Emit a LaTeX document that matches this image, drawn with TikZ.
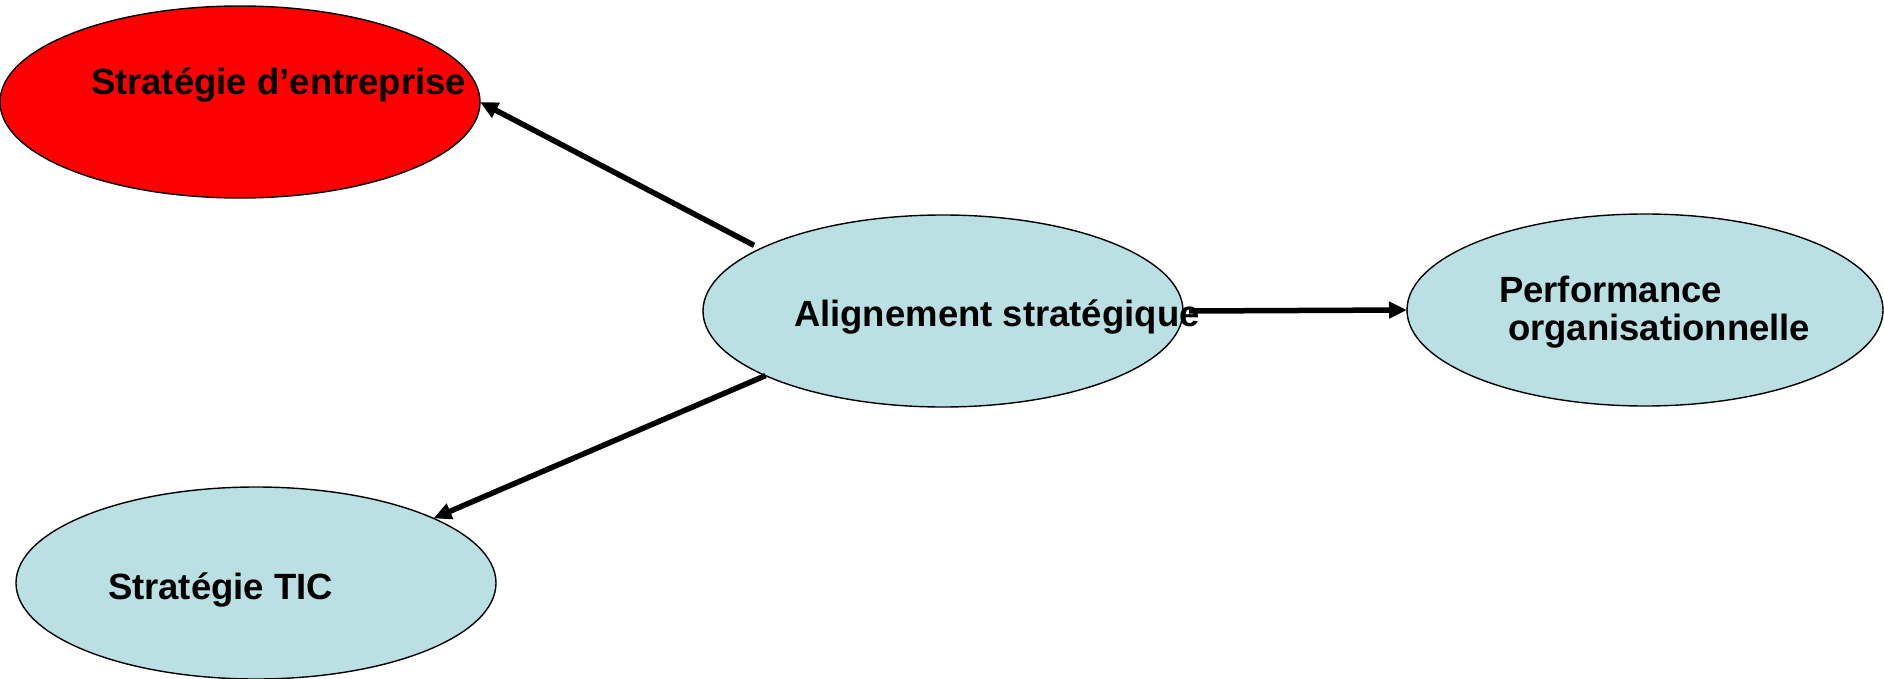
\documentclass[tikz,border=0pt]{standalone}
\usepackage{fontspec}
\setmainfont{Liberation Sans}
\usetikzlibrary{shapes.geometric,arrows.meta}
\definecolor{paleblue}{RGB}{187,224,227}
\definecolor{pured}{RGB}{255,0,0}
\tikzset{
  oval/.style={ellipse, draw=black, line width=1.4pt, inner sep=0pt, outer sep=0pt,
    minimum width=480pt, minimum height=192pt},
  label text/.style={inner sep=0pt, outer sep=0pt, anchor=base west,
    font=\fontsize{36.5}{38}\selectfont\bfseries, align=left},
  link/.style={line width=5.5pt, -{Triangle[length=18pt,width=16pt]}}
}
\begin{document}
\begin{tikzpicture}[x=1pt, y=-1pt]
  \useasboundingbox (0,0) rectangle (1884,679);
  % ovals
  \node[oval, fill=pured] (ent) at (240,102) {};
  \node[oval, fill=paleblue] (align) at (943,311) {};
  \node[oval, fill=paleblue, minimum width=476pt] (perf) at (1645,310) {};
  \node[oval, fill=paleblue] (tic) at (256,583) {};
  % labels
  \node[label text] (tent) at (91,95) {Stratégie d’entreprise};
  \node[label text] (talign) at (794,326) {Alignement stratégique};
  \node[label text] (tperf1) at (1499,302) {Performance};
  \node[label text] (tperf2) at (1508,340) {organisationnelle};
  \node[label text] (ttic) at (108,599) {Stratégie TIC};
  % connectors, starting just outside the central oval
  \coordinate (upstart) at ([shift={(-7,-3)}]align.161);
  \draw[link] (upstart) -- (ent.east);
  \draw[link] (align.200) -- (tic.20);
  \draw[link] ([xshift=6pt]align.east) -- (perf.west);
\end{tikzpicture}
\end{document}
